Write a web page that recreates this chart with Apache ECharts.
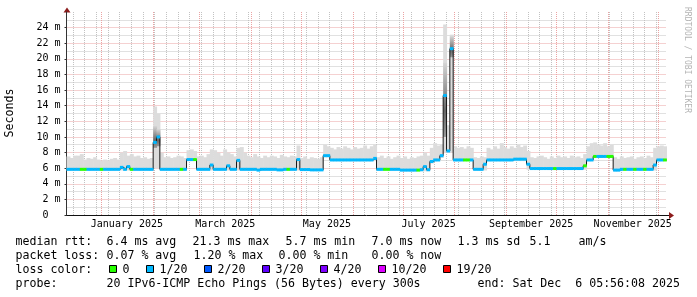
<!DOCTYPE html>
<html><head><meta charset="utf-8">
<script src="https://cdn.jsdelivr.net/npm/echarts@6/dist/echarts.min.js"></script>
<style>html,body{margin:0;padding:0;background:#fff;}#c{width:697px;height:297px;}</style>
</head><body><div id="c"></div>
<script>
// ---- time frame ----
const END = Date.UTC(2025, 11, 6, 5, 56, 8);
const DAY = 86400000;
const SPAN_DAYS = 360;
const START = END - SPAN_DAYS * DAY;
const BIN_DAYS = 2;

// ---- x labels (months) ----
const monthStarts = ['2025-01-01','2025-02-01','2025-03-01','2025-04-01','2025-05-01','2025-06-01',
  '2025-07-01','2025-08-01','2025-09-01','2025-10-01','2025-11-01','2025-12-01','2026-01-01'];
const xLabelMonths = [0, 2, 4, 6, 8, 10];
const xLabels = ['January 2025','March 2025','May 2025','July 2025','September 2025','November 2025'];

// ---- y ticks ----
const yMax = 26;
const yInterval = 2;

// ---- median rtt per 2-day bin (ms) ----
const median = [
 5.85,5.85,5.85,5.85,5.85,5.85,5.85,5.85,5.85,5.85,
 5.85,5.85,5.85,5.85,5.85,5.85,6.1,5.85,6.2,5.85,
 5.85,5.85,5.85,5.85,5.85,5.85,9.3,10.0,5.85,5.85,
 5.85,5.85,5.85,5.85,5.85,5.85,7.1,7.1,7.1,5.85,
 5.85,5.85,5.85,6.4,5.85,5.85,5.85,5.85,6.3,5.85,
 5.85,7.0,5.85,5.85,5.85,5.85,5.85,5.75,5.85,5.85,
 5.85,5.85,5.85,5.78,5.78,5.85,5.85,5.85,5.85,7.1,
 5.82,5.82,5.82,5.78,5.78,5.78,5.78,7.6,7.6,7.05,
 7.05,7.05,7.05,7.05,7.05,7.05,7.05,7.05,7.05,7.05,
 7.05,7.05,7.25,5.85,5.85,5.85,5.85,5.85,5.85,5.85,
 5.75,5.75,5.75,5.75,5.75,5.75,5.8,6.2,5.8,6.85,
 7.05,7.05,7.6,15.3,8.2,21.3,7.05,7.05,7.05,7.05,
 7.05,7.05,5.85,5.85,5.85,6.5,7.05,7.05,7.05,7.05,
 7.05,7.05,7.05,7.05,7.15,7.15,7.15,7.15,6.5,5.95,
 5.95,5.95,5.95,5.95,5.95,5.95,5.95,5.95,5.95,5.95,
 5.95,5.95,5.95,5.95,5.95,6.3,7.05,7.05,7.5,7.5,
 7.5,7.5,7.5,7.5,5.75,5.75,5.85,5.85,5.85,5.85,
 5.85,5.85,5.85,5.85,5.85,5.85,6.4,7.05,7.05,7.05
];

// ---- loss level per bin (index into lossColors) ----
const loss = [
 1,1,1,1,0,0,1,1,1,1, 0,1,1,1,1,1,1,1,1,0,
 1,1,1,1,1,1,1,1,1,1, 1,1,1,1,0,1,1,1,0,1,
 1,1,1,1,1,1,1,1,1,1, 1,1,1,1,1,1,1,1,1,1,
 1,1,1,1,1,1,0,1,1,1, 1,1,1,1,1,1,1,1,1,1,
 1,1,1,1,1,1,1,1,1,1, 1,1,1,1,1,0,0,1,1,1,
 1,1,1,1,1,0,1,1,1,1, 1,1,1,1,1,1,1,1,1,0,
 0,1,1,1,1,1,1,1,1,1, 1,1,1,1,1,1,1,1,1,1,
 1,1,1,1,1,1,0,1,1,1, 1,1,1,1,1,0,1,1,0,1,
 1,1,0,0,1,1,1,0,1,1, 0,1,1,0,1,1,1,1,1,0
];

// ---- smoke (ping spread) per bin (ms) ----
const smokeLow = [
 5.7,5.7,5.7,5.7,5.7,5.7,5.7,5.7,5.7,5.7,
 5.7,5.7,5.7,5.7,5.7,5.7,5.7,5.7,5.7,5.7,
 5.7,5.7,5.7,5.7,5.7,5.7,6.0,6.0,5.7,5.7,
 5.7,5.7,5.7,5.7,5.7,5.7,6.9,6.9,6.9,5.7,
 5.7,5.7,5.7,5.7,5.7,5.7,5.7,5.7,5.7,5.7,
 5.7,5.7,5.7,5.7,5.7,5.7,5.7,5.7,5.7,5.7,
 5.7,5.7,5.7,5.7,5.7,5.7,5.7,5.7,5.7,5.7,
 5.65,5.65,5.65,5.65,5.65,5.65,5.65,7.4,7.4,6.9,
 6.9,6.9,6.9,6.9,6.9,6.9,6.9,6.9,6.9,6.9,
 6.9,6.9,6.9,5.7,5.7,5.7,5.7,5.7,5.7,5.7,
 5.6,5.6,5.6,5.6,5.6,5.6,5.6,5.6,5.6,6.6,
 6.9,6.9,7.3,8.0,8.0,8.0,6.9,6.9,6.9,6.9,
 6.9,6.9,5.7,5.7,5.7,5.7,6.9,6.9,6.9,6.9,
 6.9,6.9,6.9,6.9,6.9,6.9,6.9,6.9,5.8,5.8,
 5.8,5.8,5.8,5.8,5.8,5.8,5.8,5.8,5.8,5.8,
 5.8,5.8,5.8,5.8,5.8,5.8,6.9,6.9,7.3,7.3,
 7.3,7.3,7.3,7.3,5.6,5.6,5.7,5.7,5.7,5.7,
 5.7,5.7,5.7,5.7,5.7,5.7,5.7,6.9,6.9,6.9
];
const smokeHigh = [
 7.5,7.3,7.6,7.6,7.8,7.1,7.3,7.2,7.4,7.1,
 7.0,7.1,7.0,7.2,7.3,7.1,8.0,8.2,7.6,7.8,
 7.5,7.6,7.3,7.4,7.2,7.3,13.9,13.0,8.0,7.4,
 7.5,7.3,7.4,7.6,7.5,7.3,8.3,8.4,8.2,7.5,
 7.6,7.4,7.8,8.4,8.3,8.0,7.6,8.4,8.0,7.8,
 7.5,8.6,8.7,8.0,7.6,7.4,7.8,7.5,7.3,7.6,
 7.4,7.6,7.5,7.3,7.7,7.5,7.4,7.6,7.5,8.9,
 7.3,7.5,7.2,7.4,7.3,7.2,7.4,9.0,8.8,8.6,
 8.4,8.7,8.5,8.8,8.6,8.4,8.7,8.5,8.6,8.9,
 8.5,8.8,9.0,7.4,7.6,7.3,7.5,7.2,7.4,7.6,
 7.3,7.5,7.2,7.4,7.3,7.5,7.6,8.0,7.6,8.6,
 9.2,8.9,9.0,24.4,11.5,23.1,8.8,8.6,8.7,8.5,
 8.8,8.6,7.4,7.3,7.5,7.4,8.6,8.4,8.8,8.5,
 9.2,8.7,8.5,8.8,8.6,9.0,8.7,8.9,8.2,7.4,
 7.3,7.5,7.6,7.4,7.2,7.5,7.3,7.6,7.4,7.5,
 7.3,7.6,7.4,7.5,7.3,7.8,8.8,9.2,9.3,9.0,
 8.9,9.2,8.8,9.0,7.4,7.2,7.5,7.3,7.4,7.5,
 7.2,7.4,7.5,7.3,7.6,7.4,8.6,8.8,8.9,8.8
];
// dense (dark) smoke inside the spikes
const darkBins = [26, 27, 113, 115];
const darkLow  = [8.6, 8.8, 10.0, 20.2];
const darkHigh = [11.4, 11.0, 19.5, 22.9];

// ---- legend ----
const lossColors = ['#26ff00','#00b8ff','#0059ff','#5e00ff','#7e00ff','#dd00ff','#ff0000'];
const lossLabels = ['0','1/20','2/20','3/20','4/20','10/20','19/20'];
const lossLabelX = [123, 160, 218, 276, 334, 392, 457];
const rttStats = [['median rtt:',16],['6.4 ms avg',107],['21.3 ms max',193],['5.7 ms min',286],['7.0 ms now',372],['1.3 ms sd',458],['5.1',530],['am/s',579]];
const lossStats = [['packet loss:',16],['0.07 % avg',107],['1.20 % max',194],['0.00 % min',279],['0.00 % now',372]];
const probeLine = [['probe:',16],['20 IPv6-ICMP Echo Pings (56 Bytes) every 300s',107],['end: Sat Dec  6 05:56:08 2025',478]];

// ---------------------------------------------------------------
const binT = i => START + i * BIN_DAYS * DAY;
const ms = s => Date.parse(s + 'T00:00:00Z');
const monthT = monthStarts.map(ms);
const labelPos = xLabelMonths.map(m => (monthT[m] + monthT[m + 1]) / 2);
const labelMap = new Map(labelPos.map((p, k) => [p, xLabels[k]]));

// gridline positions: weekly (Sundays) grey, month starts red
const gridData = [];
const firstSun = Date.UTC(2024, 11, 15);
for (let t = firstSun; t < END; t += 7 * DAY) {
  if (!monthT.includes(t)) gridData.push([t, 0]);
}
monthT.forEach(t => { if (t > START && t < END) gridData.push([t, 1]); });

const smokeData = median.map((m, i) => [binT(i), binT(i + 1), smokeLow[i], smokeHigh[i]]);
const darkData = darkBins.map((b, k) => [binT(b), binT(b + 1), darkLow[k], darkHigh[k]]);
const bandData = median.map((m, i) => [binT(i), binT(i + 1), m, loss[i]]);
const lineData = median.map((m, i) => [binT(i), m]).concat([[END, median[median.length - 1]]]);

const MONO = '"DejaVu Sans Mono", monospace';
const LF = '11.6px ' + MONO;
const MAJOR = '#eba3a3';
const MINOR = '#c2c2c2';

const graphics = [];
function addText(x, y, txt, font, fill) {
  graphics.push({ type: 'text', x: x, y: y, silent: true,
    style: { text: txt, font: font || LF, fill: fill || '#000', textAlign: 'left', textVerticalAlign: 'middle' } });
}
rttStats.forEach(([t, x]) => addText(x - 0.5, 241.5, t));
lossStats.forEach(([t, x]) => addText(x - 0.5, 255.5, t));
addText(15.5, 269.5, 'loss color:');
lossLabels.forEach((t, k) => {
  const x = lossLabelX[k];
  graphics.push({ type: 'rect', silent: true, shape: { x: x - 13.5, y: 265.5, width: 7, height: 7 },
    style: { fill: lossColors[k], stroke: '#000', lineWidth: 1 } });
  addText(x - 0.5, 269.5, t);
});
probeLine.forEach(([t, x]) => addText(x - 0.5, 283.5, t));
// axis title and watermark
graphics.push({ type: 'text', x: 10, y: 113, rotation: Math.PI / 2, silent: true,
  style: { text: 'Seconds', font: LF, fill: '#000', textAlign: 'center', textVerticalAlign: 'middle' } });
graphics.push({ type: 'text', x: 687.5, y: 60, rotation: -Math.PI / 2, silent: true,
  style: { text: 'RRDTOOL / TOBI OETIKER', font: '8px ' + MONO, fill: '#b4b4b4', textAlign: 'center', textVerticalAlign: 'middle' } });
// axis arrows
graphics.push({ type: 'line', silent: true, shape: { x1: 666, y1: 215.5, x2: 669, y2: 215.5 }, style: { stroke: '#111', lineWidth: 1 } });
graphics.push({ type: 'polygon', silent: true, shape: { points: [[669, 212], [669, 219], [674, 215.5]] }, style: { fill: '#8c1c1c' } });
graphics.push({ type: 'polygon', silent: true, shape: { points: [[63.5, 12.5], [70.5, 12.5], [67, 7.5]] }, style: { fill: '#8c1c1c' } });

const option = {
  animation: false,
  backgroundColor: '#ffffff',
  grid: { left: 66.5, top: 12, width: 600, height: 203, containLabel: false },
  xAxis: {
    type: 'value', min: START, max: END,
    axisLine: { show: true, onZero: true, lineStyle: { color: '#111', width: 1 } },
    axisTick: { show: false },
    splitLine: { show: false },
    axisLabel: {
      customValues: labelPos,
      formatter: v => labelMap.get(v) || '',
      margin: 4, color: '#000', fontFamily: 'DejaVu Sans Mono', fontSize: 10
    }
  },
  yAxis: {
    type: 'value', min: 0, max: yMax, interval: yInterval,
    axisLine: { show: true, lineStyle: { color: '#333', width: 1 } },
    axisTick: { show: true, length: 2, lineStyle: { color: '#333' } },
    axisLabel: {
      margin: 6, color: '#000', fontFamily: 'DejaVu Sans Mono', fontSize: 10,
      showMaxLabel: false,
      formatter: v => v === 0 ? '0  ' : (v >= yMax ? '' : v + ' m')
    },
    splitLine: { show: true, showMaxLine: false, showMinLine: false, lineStyle: { color: MAJOR, width: 1, type: [1, 1] } },
    minorTick: { show: false, splitNumber: 2 },
    minorSplitLine: { show: true, lineStyle: { color: MINOR, width: 1, type: [1, 1] } }
  },
  series: [
    {
      name: 'grid', type: 'custom', silent: true, z: 1, clip: true,
      data: gridData, encode: { x: 0, y: 1 },
      renderItem: (params, api) => {
        const t = api.value(0);
        const a = api.coord([t, 0]);
        const b = api.coord([t, yMax]);
        const x = Math.round(a[0]) + 0.5;
        return { type: 'line', shape: { x1: x, y1: a[1], x2: x, y2: b[1] },
          style: { stroke: api.value(1) ? MAJOR : MINOR, lineWidth: 1, lineDash: [1, 1] } };
      }
    },
    {
      name: 'smoke', type: 'custom', silent: true, z: 2, clip: true,
      data: smokeData, encode: { x: [0, 1], y: [2, 3] },
      renderItem: (params, api) => {
        const p0 = api.coord([api.value(0), api.value(3)]);
        const p1 = api.coord([api.value(1), api.value(2)]);
        return { type: 'rect', shape: { x: p0[0], y: p0[1], width: p1[0] - p0[0] + 0.6, height: p1[1] - p0[1] },
          style: { fill: '#dcdcdc' } };
      }
    },
    {
      name: 'dense smoke', type: 'custom', silent: true, z: 3, clip: true,
      data: darkData, encode: { x: [0, 1], y: [2, 3] },
      renderItem: (params, api) => {
        const p0 = api.coord([api.value(0), api.value(3)]);
        const p1 = api.coord([api.value(1), api.value(2)]);
        return { type: 'rect', shape: { x: p0[0], y: p0[1], width: p1[0] - p0[0] + 0.6, height: p1[1] - p0[1] },
          style: { fill: new echarts.graphic.LinearGradient(0, 0, 0, 1, [
            { offset: 0, color: '#d6d6d6' }, { offset: 0.65, color: '#666' }, { offset: 1, color: '#999' }]) } };
      }
    },
    {
      name: 'median', type: 'line', step: 'end', z: 4, silent: true,
      data: lineData, showSymbol: false, symbol: 'none',
      lineStyle: { color: '#1a1a1a', width: 1 }
    },
    {
      name: 'loss band', type: 'custom', silent: true, z: 5, clip: true,
      data: bandData, encode: { x: [0, 1], y: 2 },
      renderItem: (params, api) => {
        const p0 = api.coord([api.value(0), api.value(2)]);
        const p1 = api.coord([api.value(1), api.value(2)]);
        return { type: 'rect', shape: { x: p0[0], y: p0[1] - 1.5, width: p1[0] - p0[0] + 0.3, height: 3 },
          style: { fill: lossColors[api.value(3)] } };
      }
    }
  ],
  graphic: { elements: graphics }
};

const chart = echarts.init(document.getElementById('c'), null, { renderer: 'canvas', width: 697, height: 297 });
chart.setOption(option);
</script>
</body></html>
